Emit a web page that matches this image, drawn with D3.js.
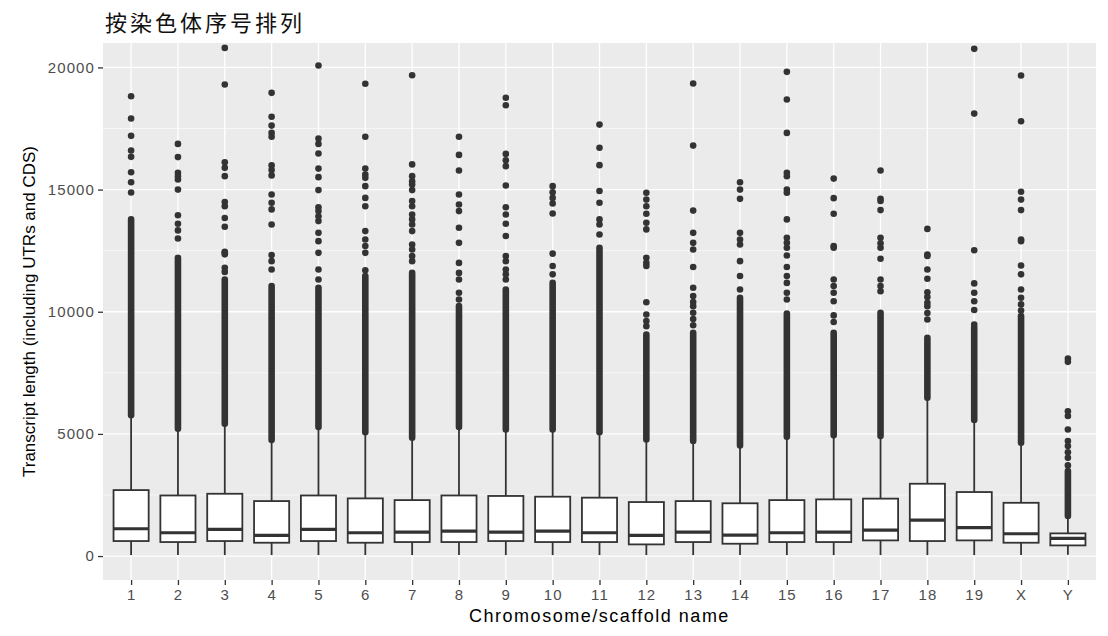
<!DOCTYPE html>
<html>
<head>
<meta charset="utf-8">
<script src="https://cdn.jsdelivr.net/npm/d3@7"></script>
<style>
  body { margin: 0; background: #fff; }
  text { font-family: "Liberation Sans", Arial, sans-serif; }
</style>
</head>
<body>
<div id="chart"></div>
<script>
var width = 1108, height = 636

// data (transcript length per chromosome)
var chroms = ["1","2","3","4","5","6","7","8","9","10","11","12","13","14","15","16","17","18","19","X","Y"]
var lowWhisker = [40, 40, 40, 40, 40, 40, 40, 40, 40, 40, 40, 40, 40, 40, 40, 40, 40, 40, 40, 40, 50]
var q1 = [614, 573, 614, 546, 614, 546, 573, 573, 614, 573, 573, 477, 573, 505, 573, 573, 641, 614, 641, 546, 436]
var medians = [1118, 955, 1090, 846, 1090, 955, 982, 1023, 982, 1023, 955, 846, 982, 860, 955, 982, 1064, 1473, 1160, 914, 723]
var q3 = [2700, 2480, 2550, 2250, 2480, 2360, 2290, 2480, 2460, 2430, 2390, 2210, 2250, 2160, 2290, 2320, 2350, 2960, 2620, 2180, 928]
var highWhisker = [5760, 5210, 5415, 4750, 5280, 5070, 4840, 5280, 5180, 5180, 5070, 4770, 4710, 4530, 4880, 4940, 4910, 6480, 5570, 4640, 1640]

// separate outlier points
var outliers = [
  [18820, 17910, 17200, 16600, 16340, 15710, 15300, 14880],
  [21200, 16870, 16330, 15690, 15550, 15410, 15000, 13950, 13600, 13330, 13000],
  [20800, 19300, 16120, 15890, 15550, 14490, 14320, 13840, 13480, 12410, 11800, 11630],
  [18960, 17980, 17620, 17320, 17160, 15990, 15800, 15580, 14800, 14460, 14190, 13570, 12320, 12070, 11730],
  [20080, 17090, 16870, 16480, 15860, 15510, 14980, 14280, 14120, 13910, 13710, 13230, 12890, 12410, 11730, 11320],
  [19330, 17160, 15860, 15620, 15480, 15140, 14660, 14320, 13300, 12960, 12690, 12410, 11700],
  [19680, 16030, 15550, 15340, 15210, 14980, 14530, 14320, 13980, 13780, 13570, 13300, 12750, 12550, 12280, 12070],
  [17160, 16420, 15780, 14800, 14390, 14120, 13440, 12820, 12000, 11590, 11320, 10780, 10500],
  [18760, 18450, 16460, 16200, 15960, 15170, 14280, 13980, 13600, 13100, 12280, 12070, 11730, 11530, 11320],
  [15140, 14890, 14660, 14430, 14020, 12380, 11870, 11530],
  [17660, 16710, 16000, 14940, 14460, 13780, 13570, 13160],
  [14870, 14590, 14320, 14010, 13640, 13370, 12210, 12000, 11870, 10390, 9890, 9620, 9410],
  [19340, 16800, 14140, 13230, 12820, 12550, 11830, 10980, 10640, 10400, 10230, 9960, 9700, 9450],
  [15300, 15000, 14620, 13230, 12960, 12750, 12070, 11460, 10910],
  [19820, 18690, 17320, 15690, 15550, 15000, 14870, 13780, 13030, 12820, 12620, 12300, 11830, 11460, 11180, 10780, 10500],
  [15450, 14650, 14010, 12690, 12620, 11320, 11050, 10780, 10430, 9850, 9580],
  [15780, 14620, 14530, 14160, 13030, 12800, 12620, 12170, 11320, 11050, 10840],
  [13390, 12340, 12280, 11730, 11350, 10800, 10600, 10370, 10230, 9950, 9680],
  [20760, 18110, 12520, 11160, 10780, 10430, 10070, 9480],
  [19670, 17800, 14910, 14590, 14160, 12960, 12890, 11890, 11530, 10910, 10570, 10300, 10050],
  [8080, 7950, 5930, 5730, 5180, 4710, 4500, 4250, 4020, 3710]
]

// runs of overlapping outliers drawn as solid stacks [from, to]
var denseRuns = [
  [[5760, 13780]],
  [[5210, 12210]],
  [[5415, 11320], [12350, 12450]],
  [[4750, 11050]],
  [[5280, 10980]],
  [[5070, 11460]],
  [[4840, 11590]],
  [[5280, 10230]],
  [[5180, 10910]],
  [[5180, 11180]],
  [[5070, 12620]],
  [[4770, 9070]],
  [[4710, 9140]],
  [[4530, 10570]],
  [[4880, 9930]],
  [[4940, 9140]],
  [[4910, 9960]],
  [[6480, 8930]],
  [[5570, 9340]],
  [[4640, 9820]],
  [[1640, 3480]]
]

var yTicks = [0, 5000, 10000, 15000, 20000]
var yMinor = [2500, 7500, 12500, 17500]

var margin = {left: 103, right: 12, top: 43, bottom: 56}

var svg = d3.select("#chart")
    .append("svg")
    .attr("width", width)
    .attr("height", height)

var x = d3.scalePoint().domain(chroms).range([margin.left, width - margin.right]).padding(0.6)
var y = d3.scaleLinear().domain([-980, 21000]).range([height - margin.bottom, margin.top])
var boxW = x.step() * 0.75

// panel
svg.append("rect")
    .attr("x", margin.left).attr("y", margin.top)
    .attr("width", width - margin.right - margin.left)
    .attr("height", height - margin.bottom - margin.top)
    .style("fill", "#EBEBEB")

svg.append("clipPath").attr("id", "panelClip")
  .append("rect")
    .attr("x", margin.left).attr("y", margin.top)
    .attr("width", width - margin.right - margin.left)
    .attr("height", height - margin.bottom - margin.top)

// grid
svg.selectAll(".minor").data(yMinor).enter().append("line")
    .attr("x1", margin.left).attr("x2", width - margin.right)
    .attr("y1", d => y(d)).attr("y2", d => y(d))
    .style("stroke", "#fff").style("stroke-width", 0.6)
svg.selectAll(".major").data(yTicks).enter().append("line")
    .attr("x1", margin.left).attr("x2", width - margin.right)
    .attr("y1", d => y(d)).attr("y2", d => y(d))
    .style("stroke", "#fff").style("stroke-width", 1.3)
svg.selectAll(".vgrid").data(chroms).enter().append("line")
    .attr("x1", d => x(d)).attr("x2", d => x(d))
    .attr("y1", margin.top).attr("y2", height - margin.bottom)
    .style("stroke", "#fff").style("stroke-width", 1.3)

var plot = svg.append("g").attr("clip-path", "url(#panelClip)")

chroms.forEach(function(c, i) {
  var g = plot.append("g")
  var cx = x(c)
  // outliers
  denseRuns[i].forEach(function(r) {
    g.append("line")
      .attr("x1", cx).attr("x2", cx)
      .attr("y1", y(r[0])).attr("y2", y(r[1]))
      .style("stroke", "#333333").style("stroke-width", 6.6).style("stroke-linecap", "round")
  })
  g.selectAll("circle").data(outliers[i]).enter().append("circle")
    .attr("cx", cx).attr("cy", d => y(d)).attr("r", 3.3)
    .style("fill", "#333333")
  // whiskers
  g.append("line")
    .attr("x1", cx).attr("x2", cx).attr("y1", y(q3[i])).attr("y2", y(highWhisker[i]))
    .style("stroke", "#333333").style("stroke-width", 1.8)
  g.append("line")
    .attr("x1", cx).attr("x2", cx).attr("y1", y(q1[i])).attr("y2", y(lowWhisker[i]))
    .style("stroke", "#333333").style("stroke-width", 1.8)
  // box
  g.append("rect")
    .attr("x", cx - boxW / 2).attr("width", boxW)
    .attr("y", y(q3[i])).attr("height", y(q1[i]) - y(q3[i]))
    .style("fill", "#fff").style("stroke", "#333333").style("stroke-width", 1.8)
  g.append("line")
    .attr("x1", cx - boxW / 2).attr("x2", cx + boxW / 2)
    .attr("y1", y(medians[i])).attr("y2", y(medians[i]))
    .style("stroke", "#333333").style("stroke-width", 3.2)
})

// axes
var yAxis = svg.append("g")
    .attr("transform", "translate(" + margin.left + ",0)")
    .call(d3.axisLeft(y).tickValues(yTicks).tickFormat(d3.format("d")).tickSize(5).tickPadding(3))
yAxis.select(".domain").remove()
yAxis.selectAll("line").style("stroke", "#333333").style("stroke-width", 1.3)
yAxis.selectAll("text").style("font-size", "15px").style("fill", "#4D4D4D").style("letter-spacing", "1.1px")

var xAxis = svg.append("g")
    .attr("transform", "translate(0," + (height - margin.bottom) + ")")
    .call(d3.axisBottom(x).tickSize(5).tickPadding(4))
xAxis.select(".domain").remove()
xAxis.selectAll("line").style("stroke", "#333333").style("stroke-width", 1.3)
xAxis.selectAll("text").style("font-size", "15px").style("fill", "#4D4D4D").style("letter-spacing", "1.1px")

// titles
svg.append("text").attr("x", 105).attr("y", 31)
    .text("按染色体序号排列")
    .style("font-family", "'Noto Sans CJK SC'").style("font-size", "22px").style("letter-spacing", "3px").style("fill", "#111")
svg.append("text")
    .attr("x", (margin.left + width - margin.right) / 2).attr("y", 622)
    .attr("text-anchor", "middle")
    .text("Chromosome/scaffold name")
    .style("font-size", "18px").style("letter-spacing", "1.5px").style("fill", "#000")
svg.append("text")
    .attr("transform", "translate(35," + ((margin.top + height - margin.bottom) / 2) + ") rotate(-90)")
    .attr("text-anchor", "middle")
    .text("Transcript length (including UTRs and CDS)")
    .style("font-size", "17px").style("fill", "#000")
</script>
</body>
</html>
